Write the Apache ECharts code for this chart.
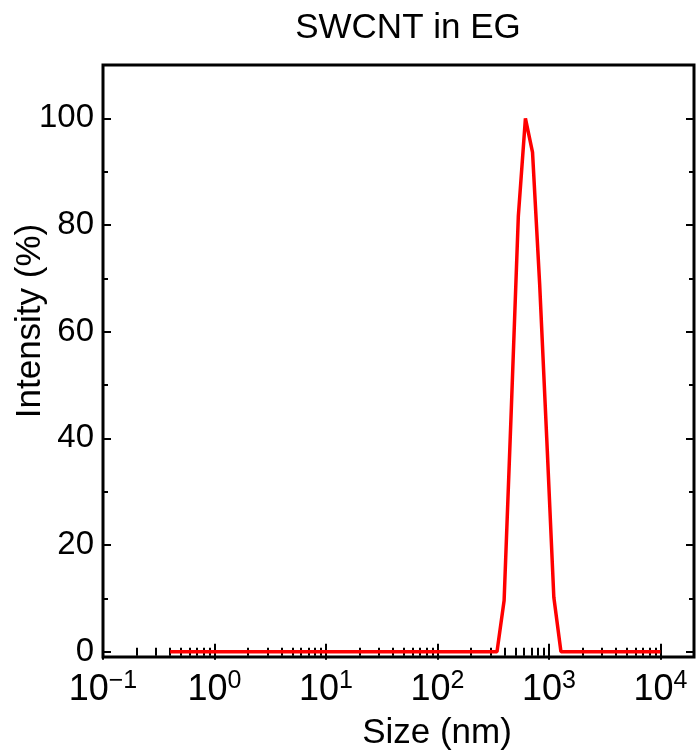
<!DOCTYPE html>
<html>
<head>
<meta charset="utf-8">
<script src="https://cdn.jsdelivr.net/npm/echarts@6/dist/echarts.min.js"></script>
<style>
html,body{margin:0;padding:0;background:#fff;}
#chart{width:696px;height:752px;}
</style>
</head>
<body>
<div id="chart"></div>
<script>
// Size classes (nm)
var sizes = [0.4, 0.4632, 0.5365, 0.6213, 0.7195, 0.8332, 0.9649, 1.117, 1.294, 1.499,
  1.736, 2.01, 2.328, 2.696, 3.122, 3.615, 4.187, 4.849, 5.615, 6.503,
  7.531, 8.721, 10.1, 11.7, 13.54, 15.69, 18.17, 21.04, 24.36, 28.21,
  32.67, 37.84, 43.82, 50.75, 58.77, 68.06, 78.82, 91.28, 105.7, 122.4,
  141.8, 164.2, 190.1, 220.2, 255, 295.3, 342, 396.1, 458.7, 531.2,
  615.1, 712.4, 825, 955.4, 1106, 1281, 1484, 1718, 1990, 2305,
  2669, 3091, 3580, 4145, 4801, 5560, 6439, 7456, 8635, 10000];
// Intensity (%)
var intensity = [0, 0, 0, 0, 0, 0, 0, 0, 0, 0,
  0, 0, 0, 0, 0, 0, 0, 0, 0, 0,
  0, 0, 0, 0, 0, 0, 0, 0, 0, 0,
  0, 0, 0, 0, 0, 0, 0, 0, 0, 0,
  0, 0, 0, 0, 0, 0, 0, 9.6, 45, 81.6,
  100, 93.6, 69, 40, 10.2, 0, 0, 0, 0, 0,
  0, 0, 0, 0, 0, 0, 0, 0, 0, 0];
var xMajorTicks = [0.1, 1, 10, 100, 1000, 10000];
var xMinorTicks = [0.2,0.3,0.4,0.5,0.6,0.7,0.8,0.9, 2,3,4,5,6,7,8,9, 20,30,40,50,60,70,80,90,
  200,300,400,500,600,700,800,900, 2000,3000,4000,5000,6000,7000,8000,9000];
var yMajorTicks = [0, 20, 40, 60, 80, 100];
var yMinorTicks = [10, 30, 50, 70, 90];
var titleText = 'SWCNT in EG';
var xName = 'Size (nm)';
var yName = 'Intensity (%)';

var FONT = '"Liberation Sans", Arial, sans-serif';
var chart = echarts.init(document.getElementById('chart'), null, {renderer: 'canvas'});

var pts = sizes.map(function (s, i) { return [s, intensity[i]]; });

function xAxisDef(pos, ticks, len, showLabel) {
  return {
    type: 'log', logBase: 10, min: 0.1, max: 20000, position: pos,
    axisLine: {show: false},
    splitLine: {show: false},
    axisTick: {show: true, inside: true, length: len, customValues: ticks,
      lineStyle: {color: '#000', width: 2}},
    axisLabel: showLabel ? {
      show: true, customValues: ticks, margin: 12,
      formatter: function (v) {
        var e = Math.round(Math.log10(v));
        var es = e < 0 ? '\u2212' + (-e) : String(e);
        return '{b|10}{s|' + es + '}';
      },
      rich: {
        b: {fontSize: 36, fontFamily: FONT, color: '#000'},
        s: {fontSize: 25, fontFamily: FONT, color: '#000', padding: [0, 0, 17, 0]}
      }
    } : {show: false}
  };
}
function yAxisDef(pos, ticks, len, showLabel) {
  return {
    type: 'value', min: -1, max: 110, position: pos,
    axisLine: {show: false},
    splitLine: {show: false},
    axisTick: {show: true, inside: true, length: len, customValues: ticks,
      lineStyle: {color: '#000', width: 2}},
    axisLabel: showLabel ? {show: true, customValues: ticks, margin: 9,
      fontSize: 33, fontFamily: FONT, color: '#000'} : {show: false}
  };
}

chart.setOption({
  animation: false,
  backgroundColor: '#fff',
  grid: {left: 103, right: 2, top: 65, bottom: 95, show: true,
    borderColor: '#000', borderWidth: 3, backgroundColor: 'transparent'},
  xAxis: [
    xAxisDef('bottom', xMajorTicks, 8, true),
    xAxisDef('bottom', xMinorTicks, 4, false),
    xAxisDef('top', xMajorTicks, 8, false),
    xAxisDef('top', xMinorTicks, 4, false)
  ],
  yAxis: [
    yAxisDef('left', yMajorTicks, 8, true),
    yAxisDef('left', yMinorTicks, 5, false),
    yAxisDef('right', yMajorTicks, 8, false),
    yAxisDef('right', yMinorTicks, 5, false)
  ],
  graphic: [
    {type: 'text', x: 408, y: 28, style: {text: titleText, fontSize: 35, fontFamily: FONT,
      fill: '#000', align: 'center', verticalAlign: 'middle'}},
    {type: 'text', x: 437, y: 733, style: {text: xName, fontSize: 35, fontFamily: FONT,
      fill: '#000', align: 'center', verticalAlign: 'middle'}},
    {type: 'text', x: 30, y: 321, rotation: Math.PI / 2, style: {text: yName, fontSize: 35, fontFamily: FONT,
      fill: '#000', align: 'center', verticalAlign: 'middle'}}
  ],
  series: [{
    type: 'line', xAxisIndex: 0, yAxisIndex: 0, data: pts,
    showSymbol: false, symbol: 'none',
    lineStyle: {color: '#ff0000', width: 3.5},
    z: 3
  }]
});
</script>
</body>
</html>
